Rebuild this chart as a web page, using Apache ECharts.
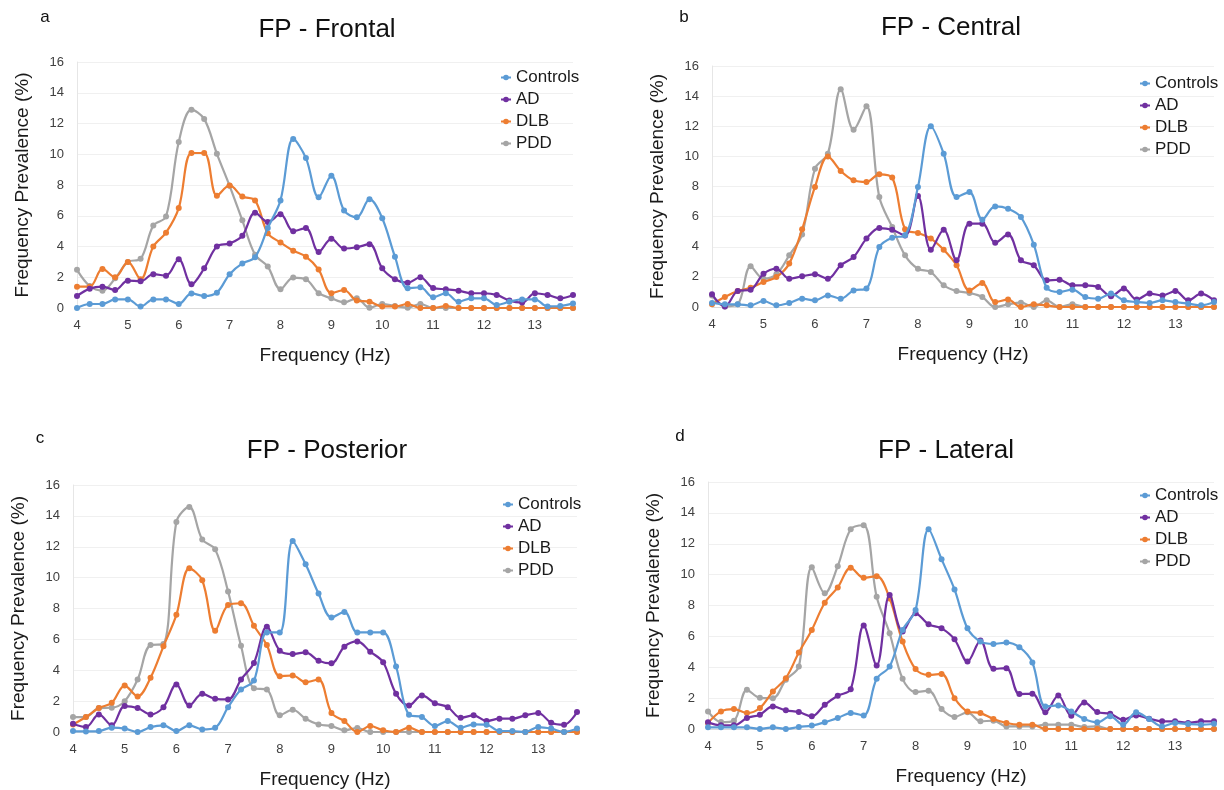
<!DOCTYPE html>
<html>
<head>
<meta charset="utf-8">
<title>FP frequency prevalence</title>
<script src="https://cdn.jsdelivr.net/npm/echarts@6/dist/echarts.min.js"></script>
<style>
    html, body { margin: 0; padding: 0; background: #fff; }
    #main { width: 1224px; height: 790px; }
</style>
</head>
<body>
<div id="main"></div>
<script>
// frequency bins (Hz), 0.25 Hz steps
var freqs = ['4', '4.25', '4.5', '4.75', '5', '5.25', '5.5', '5.75', '6', '6.25',
    '6.5', '6.75', '7', '7.25', '7.5', '7.75', '8', '8.25', '8.5', '8.75',
    '9', '9.25', '9.5', '9.75', '10', '10.25', '10.5', '10.75', '11', '11.25',
    '11.5', '11.75', '12', '12.25', '12.5', '12.75', '13', '13.25', '13.5', '13.75'];

var groups = ['Controls', 'AD', 'DLB', 'PDD'];
var yTicks = [0, 2, 4, 6, 8, 10, 12, 14, 16];

// a - Frontal
var frontalControls = [0, 0.26, 0.26, 0.56, 0.56, 0.1, 0.56, 0.56, 0.26, 0.95, 0.78, 1.0, 2.2, 2.9, 3.3, 5.2, 7.0, 11.0, 9.75, 7.2, 8.6, 6.34, 5.9, 7.08, 5.84, 3.34, 1.28, 1.35, 0.7, 0.96, 0.41, 0.63, 0.63, 0.2, 0.41, 0.56, 0.56, 0.1, 0.13, 0.3];
var frontalAD = [0.78, 1.26, 1.39, 1.17, 1.78, 1.74, 2.2, 2.1, 3.17, 1.54, 2.58, 4.0, 4.2, 4.7, 6.2, 5.6, 6.1, 5.0, 5.2, 3.65, 4.5, 3.87, 3.95, 4.15, 2.58, 1.87, 1.65, 2.0, 1.3, 1.22, 1.13, 0.96, 0.96, 0.85, 0.48, 0.35, 0.96, 0.85, 0.63, 0.85];
var frontalDLB = [1.39, 1.39, 2.54, 2.0, 3.0, 1.87, 4.0, 4.9, 6.5, 10.08, 10.08, 7.3, 7.97, 7.25, 7.0, 4.86, 4.26, 3.73, 3.34, 2.5, 0.96, 1.17, 0.48, 0.41, 0.1, 0.1, 0.26, 0, 0, 0.13, 0, 0, 0, 0, 0, 0, 0, 0, 0, 0];
var frontalPDD = [2.48, 1.43, 1.13, 1.93, 3.0, 3.2, 5.36, 5.95, 10.8, 12.9, 12.3, 10.03, 7.95, 5.7, 3.47, 2.7, 1.22, 1.98, 1.87, 0.96, 0.63, 0.37, 0.63, 0.02, 0.26, 0.13, 0.02, 0.26, 0, 0, 0, 0, 0, 0, 0, 0, 0, 0, 0, 0];

// b - Central
var centralControls = [0.27, 0.18, 0.18, 0.11, 0.4, 0.11, 0.27, 0.55, 0.44, 0.77, 0.55, 1.1, 1.22, 3.98, 4.6, 4.76, 7.97, 12.0, 10.18, 7.3, 7.63, 5.8, 6.68, 6.53, 5.97, 4.14, 1.28, 1.0, 1.15, 0.66, 0.55, 0.89, 0.44, 0.33, 0.27, 0.44, 0.33, 0.22, 0.11, 0.33];
var centralAD = [0.84, 0.04, 1.06, 1.15, 2.2, 2.54, 1.88, 2.04, 2.17, 1.88, 2.77, 3.32, 4.54, 5.24, 5.13, 4.74, 7.37, 3.8, 5.13, 3.1, 5.53, 5.53, 4.27, 4.82, 3.1, 2.77, 1.77, 1.81, 1.44, 1.44, 1.33, 0.71, 1.22, 0.49, 0.89, 0.77, 1.06, 0.44, 0.89, 0.44];
var centralDLB = [0.18, 0.66, 1.06, 1.28, 1.66, 1.99, 2.88, 5.16, 7.97, 10.0, 9.03, 8.41, 8.3, 8.81, 8.59, 5.16, 4.91, 4.54, 3.8, 2.77, 1.1, 1.59, 0.33, 0.49, 0, 0.18, 0.11, 0, 0, 0, 0, 0, 0, 0, 0, 0, 0, 0, 0, 0];
var centralPDD = [0.77, 0.04, 0.18, 2.7, 1.88, 2.17, 3.43, 4.82, 9.18, 10.18, 14.45, 11.77, 13.32, 7.3, 5.31, 3.43, 2.54, 2.32, 1.44, 1.06, 0.93, 0.66, 0, 0.18, 0.29, 0, 0.44, 0, 0.18, 0, 0, 0, 0, 0, 0, 0, 0, 0, 0, 0];

// c - Posterior
var posteriorControls = [0.06, 0.04, 0.06, 0.28, 0.22, 0, 0.32, 0.43, 0.06, 0.43, 0.17, 0.28, 1.61, 2.75, 3.33, 6.45, 6.45, 12.37, 10.86, 8.97, 7.42, 7.78, 6.45, 6.45, 6.45, 4.24, 1.12, 0.97, 0.39, 0.71, 0.28, 0.49, 0.47, 0.06, 0.06, 0, 0.32, 0.22, 0, 0.22];
var posteriorAD = [0.54, 0.32, 1.14, 0.43, 1.68, 1.55, 1.14, 1.61, 3.08, 1.72, 2.47, 2.15, 2.11, 3.4, 4.47, 6.82, 5.27, 5.05, 5.16, 4.62, 4.45, 5.53, 5.87, 5.2, 4.52, 2.47, 1.72, 2.37, 1.87, 1.61, 0.92, 1.08, 0.71, 0.86, 0.86, 1.08, 1.23, 0.6, 0.47, 1.29];
var posteriorDLB = [0.49, 0.97, 1.55, 1.89, 3.01, 2.3, 3.51, 5.55, 7.59, 10.6, 9.83, 6.56, 8.22, 8.34, 6.88, 5.63, 3.61, 3.66, 3.23, 3.4, 1.23, 0.71, 0, 0.39, 0.11, 0, 0.28, 0, 0, 0, 0, 0, 0, 0, 0, 0, 0, 0, 0, 0];
var posteriorPDD = [0.97, 0.97, 1.55, 1.57, 2.0, 3.4, 5.63, 5.7, 13.6, 14.58, 12.47, 11.83, 9.1, 5.59, 2.84, 2.75, 1.08, 1.44, 0.86, 0.49, 0.39, 0.11, 0.26, 0, 0, 0, 0, 0, 0, 0, 0, 0, 0, 0, 0, 0, 0, 0, 0, 0];

// d - Lateral
var lateralControls = [0.11, 0.11, 0.11, 0.11, 0, 0.11, 0, 0.13, 0.22, 0.43, 0.71, 1.03, 0.88, 3.25, 4.05, 6.42, 7.71, 12.94, 11.0, 9.04, 6.52, 5.66, 5.51, 5.6, 5.3, 4.31, 1.46, 1.53, 1.14, 0.65, 0.43, 0.82, 0.28, 1.08, 0.65, 0.17, 0.39, 0.32, 0.28, 0.34];
var lateralAD = [0.43, 0.24, 0.24, 0.71, 0.93, 1.46, 1.21, 1.1, 0.82, 1.57, 2.15, 2.58, 6.7, 4.11, 8.68, 6.31, 7.49, 6.78, 6.52, 5.81, 4.37, 5.73, 3.9, 3.94, 2.26, 2.28, 1.08, 2.17, 0.86, 1.72, 1.1, 0.99, 0.6, 0.88, 0.67, 0.5, 0.5, 0.39, 0.5, 0.5];
var lateralDLB = [0.39, 1.14, 1.29, 1.03, 1.36, 2.43, 3.29, 4.95, 6.42, 8.18, 9.17, 10.44, 9.8, 9.9, 8.46, 5.66, 3.88, 3.51, 3.57, 2.0, 1.14, 1.03, 0.65, 0.39, 0.28, 0.28, 0, 0, 0, 0, 0, 0, 0, 0, 0, 0, 0, 0, 0, 0];
var lateralPDD = [1.14, 0.45, 0.54, 2.54, 2.02, 2.0, 3.19, 4.05, 10.47, 8.79, 10.55, 12.94, 13.2, 8.57, 6.2, 3.25, 2.39, 2.48, 1.29, 0.78, 1.08, 0.5, 0.54, 0.17, 0.17, 0.17, 0.28, 0.28, 0.28, 0.13, 0.17, 0, 0, 0, 0, 0, 0, 0, 0, 0];

var colors = ['#5b9bd5', '#7030a0', '#ed7d31', '#a5a5a5'];
var font = 'Liberation Sans, Arial, sans-serif';

var panels = [
    { letter: 'a', title: 'FP - Frontal', data: [frontalControls, frontalAD, frontalDLB, frontalPDD],
      grid: { left: 77, top: 62, width: 496, height: 246 }, titleX: 327, titleY: 30, letterX: 45, letterY: 17, legend: { left: 495, top: 64 } },
    { letter: 'b', title: 'FP - Central', data: [centralControls, centralAD, centralDLB, centralPDD],
      grid: { left: 712, top: 66, width: 502, height: 241 }, titleX: 951, titleY: 28, letterX: 684, letterY: 17, legend: { left: 1134, top: 70 } },
    { letter: 'c', title: 'FP - Posterior', data: [posteriorControls, posteriorAD, posteriorDLB, posteriorPDD],
      grid: { left: 73, top: 485, width: 504, height: 248 }, titleX: 327, titleY: 451, letterX: 40, letterY: 438, legend: { left: 497, top: 491 } },
    { letter: 'd', title: 'FP - Lateral', data: [lateralControls, lateralAD, lateralDLB, lateralPDD],
      grid: { left: 708, top: 482, width: 506, height: 247 }, titleX: 946, titleY: 451, letterX: 680, letterY: 436, legend: { left: 1134, top: 482 } }
];

var grids = [], xAxes = [], yAxes = [], series = [], legends = [], graphics = [];

panels.forEach(function (p, k) {
    grids.push(p.grid);
    xAxes.push({
        type: 'category',
        gridIndex: k,
        data: freqs,
        boundaryGap: false,
        name: 'Frequency (Hz)',
        nameLocation: 'middle',
        nameGap: 38,
        nameTextStyle: { fontSize: 19, color: '#1a1a1a', fontFamily: font },
        axisLine: { lineStyle: { color: '#d9d9d9' } },
        axisTick: { show: false },
        axisLabel: { interval: 3, margin: 11, fontSize: 13, color: '#404040', fontFamily: font }
    });
    yAxes.push({
        type: 'value',
        gridIndex: k,
        min: yTicks[0],
        max: yTicks[yTicks.length - 1],
        interval: 2,
        name: 'Frequency Prevalence (%)',
        nameLocation: 'middle',
        nameGap: 45,
        nameTextStyle: { fontSize: 19, color: '#1a1a1a', fontFamily: font },
        axisLine: { show: true, lineStyle: { color: '#e6e6e6' } },
        axisTick: { show: false },
        axisLabel: { margin: 13, fontSize: 13, color: '#404040', fontFamily: font },
        splitLine: { lineStyle: { color: '#f0f0f0' } }
    });
    groups.forEach(function (g, j) {
        series.push({
            name: g,
            type: 'line',
            xAxisIndex: k,
            yAxisIndex: k,
            data: p.data[j],
            smooth: 0.35,
            symbol: 'circle',
            symbolSize: 6,
            z: 10 - j,
            itemStyle: { color: colors[j] },
            lineStyle: { width: 2.2, color: colors[j] }
        });
    });
    legends.push({
        left: p.legend.left,
        top: p.legend.top,
        orient: 'vertical',
        itemWidth: 10,
        itemHeight: 7,
        itemGap: 5,
        data: groups,
        textStyle: { fontSize: 17, color: '#1a1a1a', fontFamily: font }
    });
    graphics.push({
        type: 'text', x: p.titleX, y: p.titleY,
        style: { text: p.title, fontSize: 26, fontFamily: font, fill: '#111', align: 'center', verticalAlign: 'middle' }
    });
    graphics.push({
        type: 'text', x: p.letterX, y: p.letterY,
        style: { text: p.letter, fontSize: 17, fontFamily: font, fill: '#111', align: 'center', verticalAlign: 'middle' }
    });
});

var chart = echarts.init(document.getElementById('main'));
chart.setOption({
    backgroundColor: '#ffffff',
    animation: false,
    grid: grids,
    xAxis: xAxes,
    yAxis: yAxes,
    legend: legends,
    graphic: graphics,
    series: series
});
</script>
</body>
</html>
